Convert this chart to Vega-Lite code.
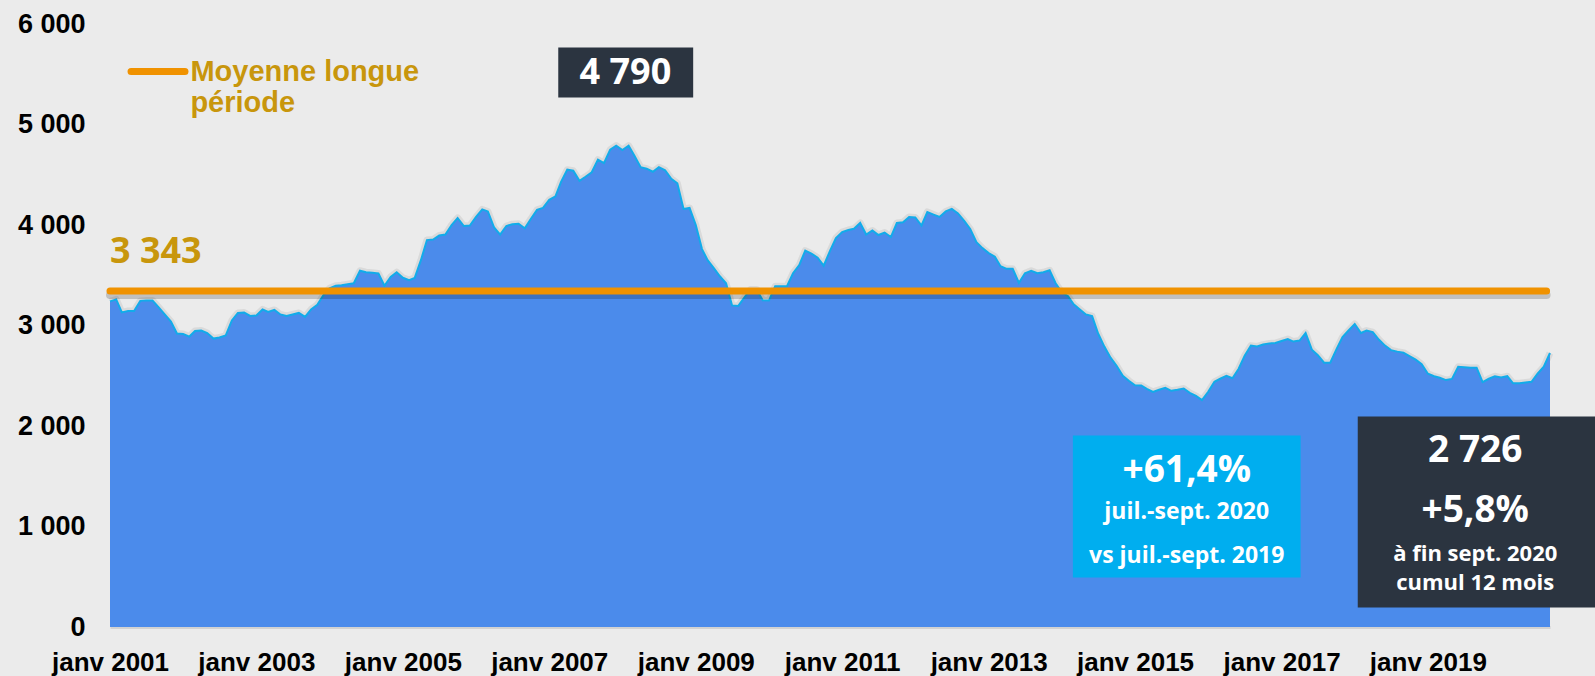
{
  "$schema": "https://vega.github.io/schema/vega-lite/v6.json",
  "background": "#EBEBEB",
  "autosize": {"type": "none"},
  "padding": {"left": 110, "top": 24, "right": 45, "bottom": 49},
  "width": 1440,
  "height": 603,
  "config": {"view": {"stroke": null}},
  "datasets": {
    "series": [
      {"date":"2001/01/01","value":3240},{"date":"2001/02/01","value":3260},{"date":"2001/03/01","value":3130},{"date":"2001/04/01","value":3145},{"date":"2001/05/01","value":3145},{"date":"2001/06/01","value":3245},{"date":"2001/07/01","value":3250},{"date":"2001/08/01","value":3250},{"date":"2001/09/01","value":3180},{"date":"2001/10/01","value":3110},{"date":"2001/11/01","value":3040},{"date":"2001/12/01","value":2920},
      {"date":"2002/01/01","value":2915},{"date":"2002/02/01","value":2890},{"date":"2002/03/01","value":2945},{"date":"2002/04/01","value":2950},{"date":"2002/05/01","value":2925},{"date":"2002/06/01","value":2870},{"date":"2002/07/01","value":2880},{"date":"2002/08/01","value":2900},{"date":"2002/09/01","value":3050},{"date":"2002/10/01","value":3125},{"date":"2002/11/01","value":3130},{"date":"2002/12/01","value":3095},
      {"date":"2003/01/01","value":3100},{"date":"2003/02/01","value":3160},{"date":"2003/03/01","value":3135},{"date":"2003/04/01","value":3155},{"date":"2003/05/01","value":3110},{"date":"2003/06/01","value":3095},{"date":"2003/07/01","value":3110},{"date":"2003/08/01","value":3125},{"date":"2003/09/01","value":3086},{"date":"2003/10/01","value":3160},{"date":"2003/11/01","value":3205},{"date":"2003/12/01","value":3300},
      {"date":"2004/01/01","value":3370},{"date":"2004/02/01","value":3395},{"date":"2004/03/01","value":3400},{"date":"2004/04/01","value":3410},{"date":"2004/05/01","value":3420},{"date":"2004/06/01","value":3545},{"date":"2004/07/01","value":3530},{"date":"2004/08/01","value":3525},{"date":"2004/09/01","value":3517},{"date":"2004/10/01","value":3395},{"date":"2004/11/01","value":3484},{"date":"2004/12/01","value":3530},
      {"date":"2005/01/01","value":3475},{"date":"2005/02/01","value":3452},{"date":"2005/03/01","value":3474},{"date":"2005/04/01","value":3650},{"date":"2005/05/01","value":3850},{"date":"2005/06/01","value":3856},{"date":"2005/07/01","value":3895},{"date":"2005/08/01","value":3905},{"date":"2005/09/01","value":4000},{"date":"2005/10/01","value":4070},{"date":"2005/11/01","value":3990},{"date":"2005/12/01","value":3995},
      {"date":"2006/01/01","value":4080},{"date":"2006/02/01","value":4155},{"date":"2006/03/01","value":4135},{"date":"2006/04/01","value":3975},{"date":"2006/05/01","value":3905},{"date":"2006/06/01","value":3990},{"date":"2006/07/01","value":4008},{"date":"2006/08/01","value":4012},{"date":"2006/09/01","value":3968},{"date":"2006/10/01","value":4060},{"date":"2006/11/01","value":4150},{"date":"2006/12/01","value":4170},
      {"date":"2007/01/01","value":4250},{"date":"2007/02/01","value":4285},{"date":"2007/03/01","value":4430},{"date":"2007/04/01","value":4550},{"date":"2007/05/01","value":4540},{"date":"2007/06/01","value":4440},{"date":"2007/07/01","value":4480},{"date":"2007/08/01","value":4525},{"date":"2007/09/01","value":4650},{"date":"2007/10/01","value":4615},{"date":"2007/11/01","value":4750},{"date":"2007/12/01","value":4790},
      {"date":"2008/01/01","value":4745},{"date":"2008/02/01","value":4790},{"date":"2008/03/01","value":4690},{"date":"2008/04/01","value":4575},{"date":"2008/05/01","value":4560},{"date":"2008/06/01","value":4530},{"date":"2008/07/01","value":4575},{"date":"2008/08/01","value":4545},{"date":"2008/09/01","value":4460},{"date":"2008/10/01","value":4415},{"date":"2008/11/01","value":4160},{"date":"2008/12/01","value":4170},
      {"date":"2009/01/01","value":4000},{"date":"2009/02/01","value":3760},{"date":"2009/03/01","value":3650},{"date":"2009/04/01","value":3570},{"date":"2009/05/01","value":3490},{"date":"2009/06/01","value":3420},{"date":"2009/07/01","value":3200},{"date":"2009/08/01","value":3195},{"date":"2009/09/01","value":3280},{"date":"2009/10/01","value":3358},{"date":"2009/11/01","value":3358},{"date":"2009/12/01","value":3250},
      {"date":"2010/01/01","value":3248},{"date":"2010/02/01","value":3390},{"date":"2010/03/01","value":3391},{"date":"2010/04/01","value":3391},{"date":"2010/05/01","value":3520},{"date":"2010/06/01","value":3600},{"date":"2010/07/01","value":3745},{"date":"2010/08/01","value":3715},{"date":"2010/09/01","value":3675},{"date":"2010/10/01","value":3595},{"date":"2010/11/01","value":3740},{"date":"2010/12/01","value":3870},
      {"date":"2011/01/01","value":3930},{"date":"2011/02/01","value":3950},{"date":"2011/03/01","value":3963},{"date":"2011/04/01","value":4020},{"date":"2011/05/01","value":3905},{"date":"2011/06/01","value":3945},{"date":"2011/07/01","value":3900},{"date":"2011/08/01","value":3925},{"date":"2011/09/01","value":3880},{"date":"2011/10/01","value":4020},{"date":"2011/11/01","value":4028},{"date":"2011/12/01","value":4080},
      {"date":"2012/01/01","value":4075},{"date":"2012/02/01","value":3995},{"date":"2012/03/01","value":4130},{"date":"2012/04/01","value":4104},{"date":"2012/05/01","value":4080},{"date":"2012/06/01","value":4135},{"date":"2012/07/01","value":4160},{"date":"2012/08/01","value":4115},{"date":"2012/09/01","value":4040},{"date":"2012/10/01","value":3960},{"date":"2012/11/01","value":3830},{"date":"2012/12/01","value":3770},
      {"date":"2013/01/01","value":3720},{"date":"2013/02/01","value":3685},{"date":"2013/03/01","value":3590},{"date":"2013/04/01","value":3564},{"date":"2013/05/01","value":3564},{"date":"2013/06/01","value":3425},{"date":"2013/07/01","value":3520},{"date":"2013/08/01","value":3545},{"date":"2013/09/01","value":3520},{"date":"2013/10/01","value":3530},{"date":"2013/11/01","value":3550},{"date":"2013/12/01","value":3420},
      {"date":"2014/01/01","value":3330},{"date":"2014/02/01","value":3290},{"date":"2014/03/01","value":3210},{"date":"2014/04/01","value":3160},{"date":"2014/05/01","value":3110},{"date":"2014/06/01","value":3093},{"date":"2014/07/01","value":2920},{"date":"2014/08/01","value":2790},{"date":"2014/09/01","value":2680},{"date":"2014/10/01","value":2600},{"date":"2014/11/01","value":2500},{"date":"2014/12/01","value":2450},
      {"date":"2015/01/01","value":2405},{"date":"2015/02/01","value":2403},{"date":"2015/03/01","value":2370},{"date":"2015/04/01","value":2340},{"date":"2015/05/01","value":2360},{"date":"2015/06/01","value":2380},{"date":"2015/07/01","value":2350},{"date":"2015/08/01","value":2360},{"date":"2015/09/01","value":2373},{"date":"2015/10/01","value":2330},{"date":"2015/11/01","value":2300},{"date":"2015/12/01","value":2258},
      {"date":"2016/01/01","value":2340},{"date":"2016/02/01","value":2440},{"date":"2016/03/01","value":2470},{"date":"2016/04/01","value":2500},{"date":"2016/05/01","value":2475},{"date":"2016/06/01","value":2570},{"date":"2016/07/01","value":2700},{"date":"2016/08/01","value":2800},{"date":"2016/09/01","value":2792},{"date":"2016/10/01","value":2810},{"date":"2016/11/01","value":2822},{"date":"2016/12/01","value":2826},
      {"date":"2017/01/01","value":2845},{"date":"2017/02/01","value":2865},{"date":"2017/03/01","value":2840},{"date":"2017/04/01","value":2850},{"date":"2017/05/01","value":2925},{"date":"2017/06/01","value":2760},{"date":"2017/07/01","value":2705},{"date":"2017/08/01","value":2630},{"date":"2017/09/01","value":2629},{"date":"2017/10/01","value":2760},{"date":"2017/11/01","value":2885},{"date":"2017/12/01","value":2950},
      {"date":"2018/01/01","value":3015},{"date":"2018/02/01","value":2925},{"date":"2018/03/01","value":2950},{"date":"2018/04/01","value":2934},{"date":"2018/05/01","value":2860},{"date":"2018/06/01","value":2800},{"date":"2018/07/01","value":2755},{"date":"2018/08/01","value":2740},{"date":"2018/09/01","value":2730},{"date":"2018/10/01","value":2695},{"date":"2018/11/01","value":2660},{"date":"2018/12/01","value":2615},
      {"date":"2019/01/01","value":2520},{"date":"2019/02/01","value":2495},{"date":"2019/03/01","value":2480},{"date":"2019/04/01","value":2457},{"date":"2019/05/01","value":2468},{"date":"2019/06/01","value":2589},{"date":"2019/07/01","value":2585},{"date":"2019/08/01","value":2579},{"date":"2019/09/01","value":2579},{"date":"2019/10/01","value":2436},{"date":"2019/11/01","value":2470},{"date":"2019/12/01","value":2495},
      {"date":"2020/01/01","value":2482},{"date":"2020/02/01","value":2496},{"date":"2020/03/01","value":2425},{"date":"2020/04/01","value":2425},{"date":"2020/05/01","value":2432},{"date":"2020/06/01","value":2440},{"date":"2020/07/01","value":2520},{"date":"2020/08/01","value":2590},{"date":"2020/09/01","value":2726}
    ]
  },
  "layer": [
    {
      "data": {"name": "series"},
      "mark": {"type": "line", "color": "#000000", "opacity": 0.07, "strokeWidth": 7, "strokeJoin": "round"},
      "encoding": {
        "x": {"field": "date", "type": "temporal"},
        "y": {"field": "value", "type": "quantitative"}
      }
    },
    {
      "data": {"name": "series"},
      "mark": {"type": "area", "color": "#4B8BEB", "opacity": 1, "line": {"color": "#12ACEA", "strokeWidth": 2}},
      "encoding": {
        "x": {
          "field": "date", "type": "temporal",
          "scale": {"domain": [{"year": 2001, "month": 1, "date": 1}, {"year": 2020, "month": 9, "date": 1}], "nice": false},
          "axis": {
            "title": null,
            "values": [
              {"year": 2001, "month": 1, "date": 1}, {"year": 2003, "month": 1, "date": 1}, {"year": 2005, "month": 1, "date": 1},
              {"year": 2007, "month": 1, "date": 1}, {"year": 2009, "month": 1, "date": 1}, {"year": 2011, "month": 1, "date": 1},
              {"year": 2013, "month": 1, "date": 1}, {"year": 2015, "month": 1, "date": 1}, {"year": 2017, "month": 1, "date": 1},
              {"year": 2019, "month": 1, "date": 1}
            ],
            "labelExpr": "'janv ' + timeFormat(datum.value, '%Y')",
            "labelFont": "Liberation Sans", "labelFontSize": 26, "labelFontWeight": "bold", "labelColor": "#000000",
            "labelPadding": 22, "labelFlush": false, "labelOverlap": false,
            "ticks": false, "tickSize": 0, "grid": false,
            "domainColor": "#D2D2D2", "domainWidth": 3
          }
        },
        "y": {
          "field": "value", "type": "quantitative",
          "scale": {"domain": [0, 6000], "nice": false},
          "axis": {
            "title": null,
            "values": [0, 1000, 2000, 3000, 4000, 5000, 6000],
            "labelExpr": "replace(format(datum.value, ','), ',', ' ')",
            "labelFont": "Liberation Sans", "labelFontSize": 27, "labelFontWeight": "bold", "labelColor": "#000000",
            "labelPadding": 25, "labelOverlap": false,
            "ticks": false, "tickSize": 0, "grid": false, "domain": false
          }
        }
      }
    },
    {
      "data": {"values": [{}]},
      "mark": {"type": "rule", "color": "#000000", "opacity": 0.18, "strokeWidth": 8, "strokeCap": "round", "yOffset": 4},
      "encoding": {
        "x": {"datum": {"year": 2001, "month": 1, "date": 1}, "type": "temporal"},
        "x2": {"datum": {"year": 2020, "month": 8, "date": 15}},
        "y": {"datum": 3343, "type": "quantitative"}
      }
    },
    {
      "data": {"values": [{}]},
      "mark": {"type": "rule", "color": "#F09200", "strokeWidth": 7, "strokeCap": "round"},
      "encoding": {
        "x": {"datum": {"year": 2001, "month": 1, "date": 1}, "type": "temporal"},
        "x2": {"datum": {"year": 2020, "month": 8, "date": 15}},
        "y": {"datum": 3343, "type": "quantitative"}
      }
    },
    {
      "data": {"values": [{}]},
      "mark": {"type": "text", "text": "3 343", "font": "Open Sans", "fontSize": 36, "fontWeight": "bold", "color": "#C8960C", "align": "left", "baseline": "middle"},
      "encoding": {
        "x": {"datum": {"year": 2001, "month": 1, "date": 1}, "type": "temporal"},
        "y": {"datum": 3736, "type": "quantitative"}
      }
    },
    {
      "data": {"values": [{}]},
      "mark": {"type": "rule", "color": "#F09200", "strokeWidth": 7, "strokeCap": "round"},
      "encoding": {
        "x": {"datum": {"year": 2001, "month": 4, "date": 16}, "type": "temporal"},
        "x2": {"datum": {"year": 2002, "month": 1, "date": 10}},
        "y": {"datum": 5527, "type": "quantitative"}
      }
    },
    {
      "data": {"values": [{}]},
      "mark": {"type": "text", "text": ["Moyenne longue", "période"], "font": "Liberation Sans", "fontSize": 29, "fontWeight": "bold", "color": "#C8960C", "align": "left", "baseline": "alphabetic", "lineHeight": 31},
      "encoding": {
        "x": {"datum": {"year": 2002, "month": 2, "date": 6}, "type": "temporal"},
        "y": {"datum": 5428, "type": "quantitative"}
      }
    },
    {
      "data": {"values": [{}]},
      "mark": {"type": "rect", "color": "#2B3440", "opacity": 1},
      "encoding": {
        "x": {"datum": {"year": 2007, "month": 2, "date": 15}, "type": "temporal"},
        "x2": {"datum": {"year": 2008, "month": 12, "date": 19}},
        "y": {"datum": 5766, "type": "quantitative"},
        "y2": {"datum": 5269}
      }
    },
    {
      "data": {"values": [{}]},
      "mark": {"type": "text", "text": "4 790", "font": "Open Sans", "fontSize": 36, "fontWeight": "bold", "color": "#FFFFFF", "align": "center", "baseline": "middle"},
      "encoding": {
        "x": {"datum": {"year": 2008, "month": 1, "date": 16}, "type": "temporal"},
        "y": {"datum": 5517, "type": "quantitative"}
      }
    },
    {
      "data": {"values": [{}]},
      "mark": {"type": "rect", "color": "#00AEEF", "opacity": 1},
      "encoding": {
        "x": {"datum": {"year": 2014, "month": 2, "date": 25}, "type": "temporal"},
        "x2": {"datum": {"year": 2017, "month": 4, "date": 6}},
        "y": {"datum": 1905, "type": "quantitative"},
        "y2": {"datum": 493}
      }
    },
    {
      "data": {"values": [{}]},
      "mark": {"type": "text", "text": "+61,4%", "font": "Open Sans", "fontSize": 37, "fontWeight": "bold", "color": "#FFFFFF", "align": "center", "baseline": "middle"},
      "encoding": {
        "x": {"datum": {"year": 2015, "month": 9, "date": 16}, "type": "temporal"},
        "y": {"datum": 1557, "type": "quantitative"}
      }
    },
    {
      "data": {"values": [{}]},
      "mark": {"type": "text", "text": "juil.-sept. 2020", "font": "Open Sans", "fontSize": 23, "fontWeight": "bold", "color": "#FFFFFF", "align": "center", "baseline": "middle"},
      "encoding": {
        "x": {"datum": {"year": 2015, "month": 9, "date": 16}, "type": "temporal"},
        "y": {"datum": 1140, "type": "quantitative"}
      }
    },
    {
      "data": {"values": [{}]},
      "mark": {"type": "text", "text": "vs juil.-sept. 2019", "font": "Open Sans", "fontSize": 23, "fontWeight": "bold", "color": "#FFFFFF", "align": "center", "baseline": "middle"},
      "encoding": {
        "x": {"datum": {"year": 2015, "month": 9, "date": 16}, "type": "temporal"},
        "y": {"datum": 705, "type": "quantitative"}
      }
    },
    {
      "data": {"values": [{}]},
      "mark": {"type": "rect", "color": "#2B3440", "opacity": 1, "clip": false},
      "encoding": {
        "x": {"datum": {"year": 2018, "month": 1, "date": 16}, "type": "temporal"},
        "x2": {"datum": {"year": 2021, "month": 5, "date": 1}},
        "y": {"datum": 2095, "type": "quantitative"},
        "y2": {"datum": 195}
      }
    },
    {
      "data": {"values": [{}]},
      "mark": {"type": "text", "text": "2 726", "font": "Open Sans", "fontSize": 37, "fontWeight": "bold", "color": "#FFFFFF", "align": "center", "baseline": "middle"},
      "encoding": {
        "x": {"datum": {"year": 2019, "month": 8, "date": 25}, "type": "temporal"},
        "y": {"datum": 1756, "type": "quantitative"}
      }
    },
    {
      "data": {"values": [{}]},
      "mark": {"type": "text", "text": "+5,8%", "font": "Open Sans", "fontSize": 37, "fontWeight": "bold", "color": "#FFFFFF", "align": "center", "baseline": "middle"},
      "encoding": {
        "x": {"datum": {"year": 2019, "month": 8, "date": 25}, "type": "temporal"},
        "y": {"datum": 1159, "type": "quantitative"}
      }
    },
    {
      "data": {"values": [{}]},
      "mark": {"type": "text", "text": "à fin sept. 2020", "font": "Open Sans", "fontSize": 22, "fontWeight": "bold", "color": "#FFFFFF", "align": "center", "baseline": "middle"},
      "encoding": {
        "x": {"datum": {"year": 2019, "month": 8, "date": 25}, "type": "temporal"},
        "y": {"datum": 722, "type": "quantitative"}
      }
    },
    {
      "data": {"values": [{}]},
      "mark": {"type": "text", "text": "cumul 12 mois", "font": "Open Sans", "fontSize": 22, "fontWeight": "bold", "color": "#FFFFFF", "align": "center", "baseline": "middle"},
      "encoding": {
        "x": {"datum": {"year": 2019, "month": 8, "date": 25}, "type": "temporal"},
        "y": {"datum": 435, "type": "quantitative"}
      }
    }
  ]
}
